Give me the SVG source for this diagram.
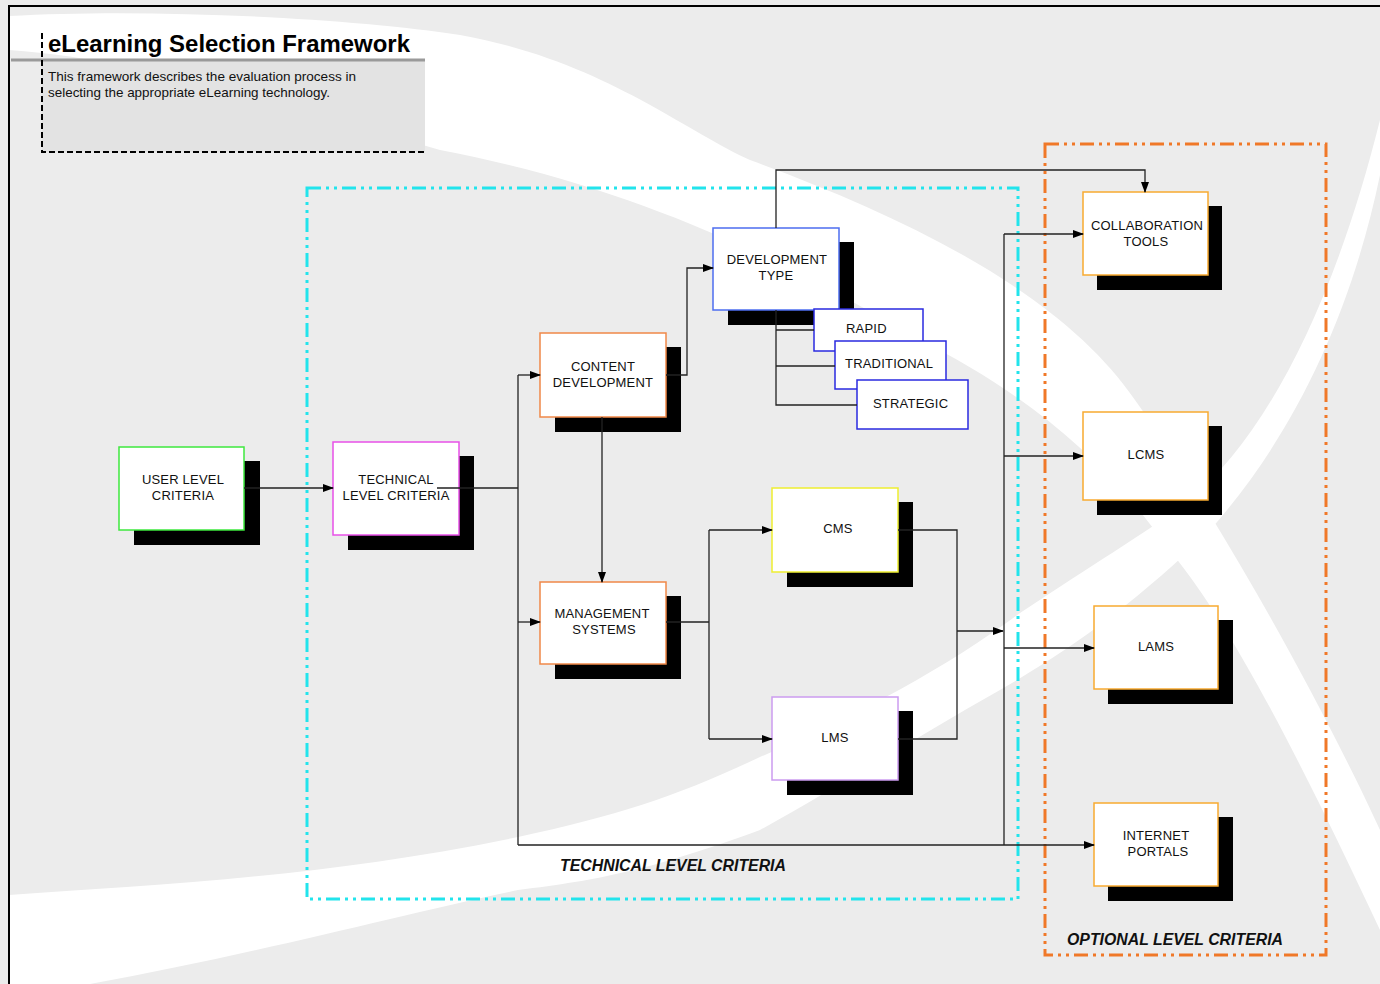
<svg xmlns="http://www.w3.org/2000/svg" width="1380" height="984" viewBox="0 0 1380 984">
<defs>
<marker id="arr" markerUnits="userSpaceOnUse" markerWidth="11" markerHeight="8" refX="10" refY="4" orient="auto">
<path d="M0,0 L11,4 L0,8 z" fill="#000"/>
</marker>
<style>
.bg{fill:#ececec}
.sw{fill:#ffffff}
.shadow{fill:#000}
.box{fill:#fff;stroke-width:1.5}
.lbl{font-family:"Liberation Sans",Arial,sans-serif;font-size:13px;letter-spacing:0.2px;fill:#111;text-anchor:middle}
.lbls{font-family:"Liberation Sans",Arial,sans-serif;font-size:13px;letter-spacing:0.2px;fill:#111}
.con{fill:none;stroke:#222;stroke-width:1.3}
.arrow{marker-end:url(#arr)}
.grp{font-family:"Liberation Sans",Arial,sans-serif;font-size:16px;font-style:italic;font-weight:bold;fill:#111}
</style>
</defs>

<!-- background -->
<rect class="bg" x="0" y="0" width="1380" height="984"/>
<path class="sw" d="M9,16 C150,8 350,18 460,35 C600,60 680,128 750,160 C900,215 1060,290 1135,400 C1220,520 1320,700 1380,830 L1380,930 C1300,760 1230,620 1165,545 C1100,450 1010,385 920,340 C800,270 650,190 440,150 C300,110 150,60 9,50 z"/>
<path class="sw" d="M9,895 C150,885 320,878 518,837 C620,815 680,795 760,757 C860,715 950,665 1020,613 C1100,560 1150,530 1190,500 C1260,440 1330,320 1380,120 L1380,175 C1350,320 1290,440 1210,530 C1140,600 1070,650 1000,690 C920,735 850,780 760,830 C650,870 600,880 518,890 C400,915 250,955 90,984 L9,984 z"/>

<!-- frame -->
<path d="M9,984 V6 H1380" fill="none" stroke="#000" stroke-width="2"/>

<!-- title box -->
<g id="title">
<rect x="42" y="60" width="383" height="92" fill="#e3e3e3"/>
<line x1="11" y1="60" x2="425" y2="60" stroke="#9a9a9a" stroke-width="3"/>
<path d="M42,33 V152 H425" fill="none" stroke="#000" stroke-width="2" stroke-dasharray="6 3"/>
<text x="48" y="52" font-family="Liberation Sans,Arial,sans-serif" font-size="23" font-weight="bold" fill="#000" textLength="362" lengthAdjust="spacingAndGlyphs">eLearning Selection Framework</text>
<text x="48" y="81" font-family="Liberation Sans,Arial,sans-serif" font-size="13" fill="#111" textLength="308" lengthAdjust="spacingAndGlyphs">This framework describes the evaluation process in</text>
<text x="48" y="97" font-family="Liberation Sans,Arial,sans-serif" font-size="13" fill="#111" textLength="282" lengthAdjust="spacingAndGlyphs">selecting the appropriate eLearning technology.</text>
</g>

<!-- group boxes -->
<g id="technical-group">
<rect x="307" y="188" width="711" height="711" fill="none" stroke="#22e4ec" stroke-width="3" stroke-dasharray="14 5 3 5 3 5"/>
<text class="grp" x="560" y="871" textLength="226" lengthAdjust="spacingAndGlyphs">TECHNICAL LEVEL CRITERIA</text>
</g>
<g id="optional-group">
<rect x="1045" y="144" width="281" height="811" fill="none" stroke="#f07828" stroke-width="3" stroke-dasharray="14 5 3 5 3 5"/>
<text class="grp" x="1067" y="945" textLength="216" lengthAdjust="spacingAndGlyphs">OPTIONAL LEVEL CRITERIA</text>
</g>

<!-- nodes -->
<g id="user-level">
<rect class="shadow" x="134" y="461" width="126" height="84"/>
<rect class="box" x="119" y="447" width="125" height="83" stroke="#3ee83e"/>
<text class="lbl" x="183" y="484">USER LEVEL</text>
<text class="lbl" x="183" y="500">CRITERIA</text>
</g>
<g id="technical-level">
<rect class="shadow" x="348" y="456" width="126" height="94"/>
<rect class="box" x="333" y="442" width="126" height="93" stroke="#e850e8"/>
<text class="lbl" x="396" y="484">TECHNICAL</text>
<text class="lbl" x="396" y="500">LEVEL CRITERIA</text>
</g>
<g id="content-development">
<rect class="shadow" x="555" y="347" width="126" height="85"/>
<rect class="box" x="540" y="333" width="126" height="84" stroke="#f08848"/>
<text class="lbl" x="603" y="371">CONTENT</text>
<text class="lbl" x="603" y="387">DEVELOPMENT</text>
</g>
<g id="management-systems">
<rect class="shadow" x="555" y="596" width="126" height="83"/>
<rect class="box" x="540" y="582" width="126" height="82" stroke="#f08848"/>
<text class="lbl" x="602" y="618">MANAGEMENT</text>
<text class="lbl" x="604" y="634">SYSTEMS</text>
</g>
<g id="development-type">
<rect class="shadow" x="728" y="242" width="126" height="83"/>
<rect class="box" x="713" y="228" width="126" height="82" stroke="#4d6ef0"/>
<text class="lbl" x="777" y="264">DEVELOPMENT</text>
<text class="lbl" x="776" y="280">TYPE</text>
</g>
<g id="rapid">
<rect class="box" x="814" y="309" width="109" height="42" stroke="#2a2ae0"/>
<text class="lbls" x="846" y="333">RAPID</text>
</g>
<g id="traditional">
<rect class="box" x="835" y="341" width="111" height="48" stroke="#2a2ae0"/>
<text class="lbls" x="845" y="368">TRADITIONAL</text>
</g>
<g id="strategic">
<rect class="box" x="857" y="380" width="111" height="49" stroke="#2a2ae0"/>
<text class="lbls" x="873" y="408">STRATEGIC</text>
</g>
<g id="cms">
<rect class="shadow" x="787" y="502" width="126" height="85"/>
<rect class="box" x="772" y="488" width="126" height="84" stroke="#eeee30"/>
<text class="lbl" x="838" y="533">CMS</text>
</g>
<g id="lms">
<rect class="shadow" x="787" y="711" width="126" height="84"/>
<rect class="box" x="772" y="697" width="126" height="83" stroke="#cc9cf0"/>
<text class="lbl" x="835" y="742">LMS</text>
</g>
<g id="collaboration-tools">
<rect class="shadow" x="1097" y="206" width="125" height="84"/>
<rect class="box" x="1083" y="192" width="125" height="83" stroke="#f8aa30"/>
<text class="lbl" x="1147" y="230">COLLABORATION</text>
<text class="lbl" x="1146" y="246">TOOLS</text>
</g>
<g id="lcms">
<rect class="shadow" x="1097" y="426" width="125" height="89"/>
<rect class="box" x="1083" y="412" width="125" height="88" stroke="#f8aa30"/>
<text class="lbl" x="1146" y="459">LCMS</text>
</g>
<g id="lams">
<rect class="shadow" x="1108" y="620" width="125" height="84"/>
<rect class="box" x="1094" y="606" width="124" height="83" stroke="#f8aa30"/>
<text class="lbl" x="1156" y="651">LAMS</text>
</g>
<g id="internet-portals">
<rect class="shadow" x="1108" y="817" width="125" height="84"/>
<rect class="box" x="1094" y="803" width="124" height="83" stroke="#f8aa30"/>
<text class="lbl" x="1156" y="840">INTERNET</text>
<text class="lbl" x="1158" y="856">PORTALS</text>
</g>

<!-- connectors -->
<g id="connectors">
<path class="con arrow" d="M244,488 H333"/>
<path class="con" d="M437,488 H518 M518,375 V845"/>
<path class="con arrow" d="M518,375 H540"/>
<path class="con arrow" d="M518,622 H540"/>
<path class="con arrow" d="M518,845 H1094"/>
<path class="con arrow" d="M666,375 H687 V268 H713"/>
<path class="con arrow" d="M602,417 V582"/>
<path class="con arrow" d="M776,228 V170 H1145 V192"/>
<path class="con" d="M776,310 V405 H857 M776,330 H814 M776,366 H835"/>
<path class="con" d="M666,622 H709 M709,530 V739"/>
<path class="con arrow" d="M709,530 H772"/>
<path class="con arrow" d="M709,739 H772"/>
<path class="con" d="M898,530 H957 V739 H898"/>
<path class="con arrow" d="M957,631 H1003"/>
<path class="con" d="M1004,234 V845"/>
<path class="con arrow" d="M1004,234 H1083"/>
<path class="con arrow" d="M1004,456 H1083"/>
<path class="con arrow" d="M1004,648 H1094"/>
</g>
</svg>
